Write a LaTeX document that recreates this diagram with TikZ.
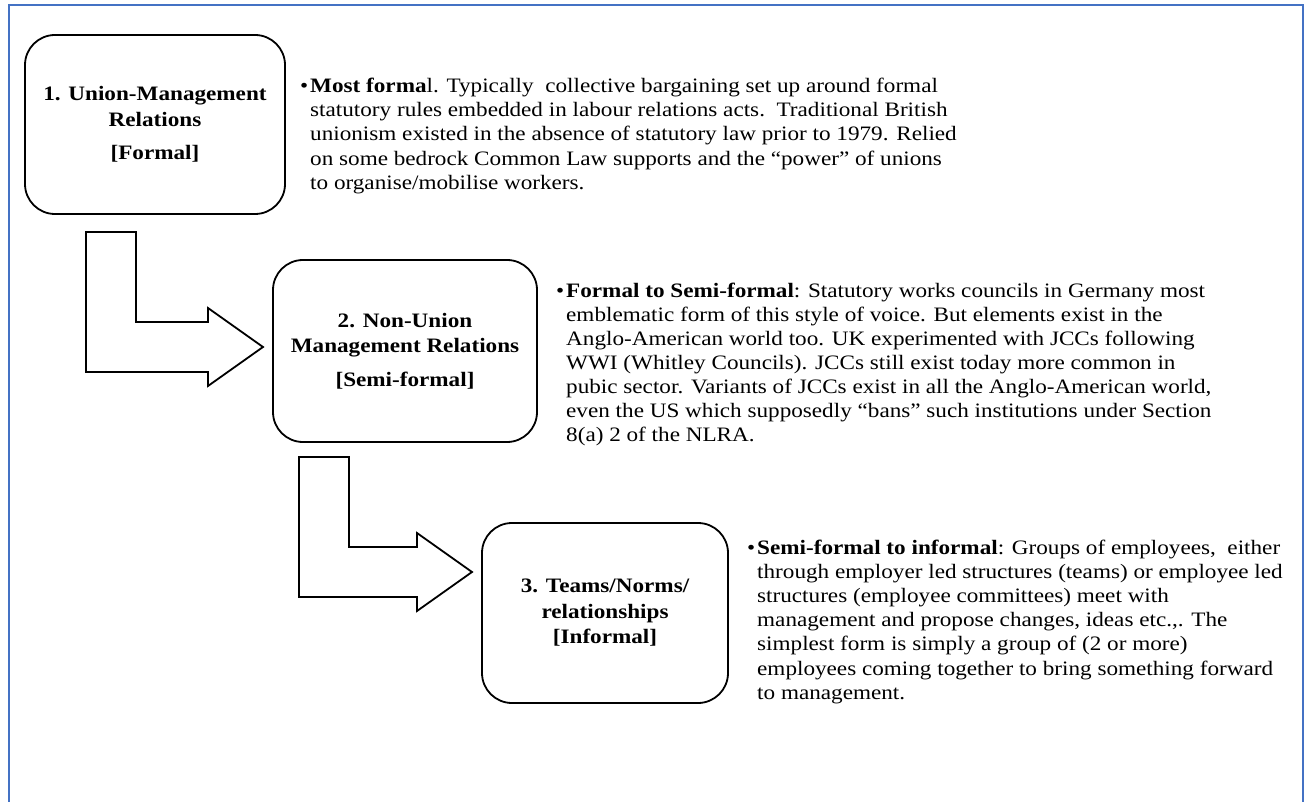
\documentclass[tikz,border=0pt]{standalone}
\usepackage{fontspec}
\setmainfont[FakeStretch=1.13]{Liberation Serif}

\definecolor{frameblue}{RGB}{68,114,196}

\newcommand{\stagefont}{\bfseries\fontsize{20.5}{25.5}\selectfont}
\newcommand{\notefont}[1]{\fontsize{20.5}{#1}\selectfont}
\newcommand{\notelines}[1]{\begin{tabular}[t]{@{}l@{}}#1\end{tabular}}
\newcommand{\dotmark}{\llap{\textbullet\kern2pt}}

\begin{document}
\begin{tikzpicture}[x=1pt, y=1pt,
    stagebox/.style={draw, line width=1.8pt, rounded corners=30pt, inner sep=0pt,
      align=center, font=\stagefont},
    note/.style={anchor=base west, inner sep=0pt},
    blockarrow/.style={draw, line width=1.8pt, line join=miter, fill=white}]
  \useasboundingbox (0,0) rectangle (1304,-802);

  % Page frame, open at the bottom
  \draw[frameblue, line width=2.5pt] (9,-802) -- (9,-5) -- (1303,-5) -- (1303,-802);

  % Stage boxes
  \node[stagebox, minimum width=260pt, minimum height=179pt] (unionbox) at (155,-124.5)
    {1. Union-Management\\Relations\\[8pt]{[Formal]}};
  \node[stagebox, minimum width=264pt, minimum height=182pt] (nonunionbox) at (405,-351)
    {2. Non-Union\\Management Relations\\[8pt]{[Semi-formal]}};
  \node[stagebox, minimum width=246pt, minimum height=180pt] (teamsbox) at (605,-613)
    {3. Teams/Norms/\\relationships\\{[Informal]}};

  % Bent arrows from one stage down to the next
  \foreach \sx/\sy/\tx/\ty in {86/-232/263/-347, 299/-457/472/-572} {
    \draw[blockarrow] (\sx,\sy) -- ++(50,0) |- (\tx-55,\ty+25) -- ++(0,14) -- (\tx,\ty)
      -- ++(-55,-39) -- ++(0,14) -| (\sx,\sy) -- cycle;
  }

  % Notes beside each stage
  \node[note] (formalnote) at (310,-92.5) {\notefont{24.2}\notelines{%
    \dotmark\textbf{Most forma}l. Typically\ \ collective bargaining set up around formal\\
    statutory rules embedded in labour relations acts.\ \ Traditional British\\
    unionism existed in the absence of statutory law prior to 1979. Relied\\
    on some bedrock Common Law supports and the “power” of unions\\
    to organise/mobilise workers.}};
  \node[note] (semiformalnote) at (566,-297.5) {\notefont{24}\notelines{%
    \dotmark\textbf{Formal to Semi-formal}: Statutory works councils in Germany most\\
    emblematic form of this style of voice. But elements exist in the\\
    Anglo-American world too. UK experimented with JCCs following\\
    WWI (Whitley Councils). JCCs still exist today more common in\\
    pubic sector. Variants of JCCs exist in all the Anglo-American world,\\
    even the US which supposedly “bans” such institutions under Section\\
    8(a) 2 of the NLRA.}};
  \node[note] (informalnote) at (757,-554) {\notefont{24.2}\notelines{%
    \dotmark\textbf{Semi-formal to informal}: Groups of employees,\ \ either\\
    through employer led structures (teams) or employee led\\
    structures (employee committees) meet with\\
    management and propose changes, ideas etc.,. The\\
    simplest form is simply a group of (2 or more)\\
    employees coming together to bring something forward\\
    to management.}};
\end{tikzpicture}
\end{document}
